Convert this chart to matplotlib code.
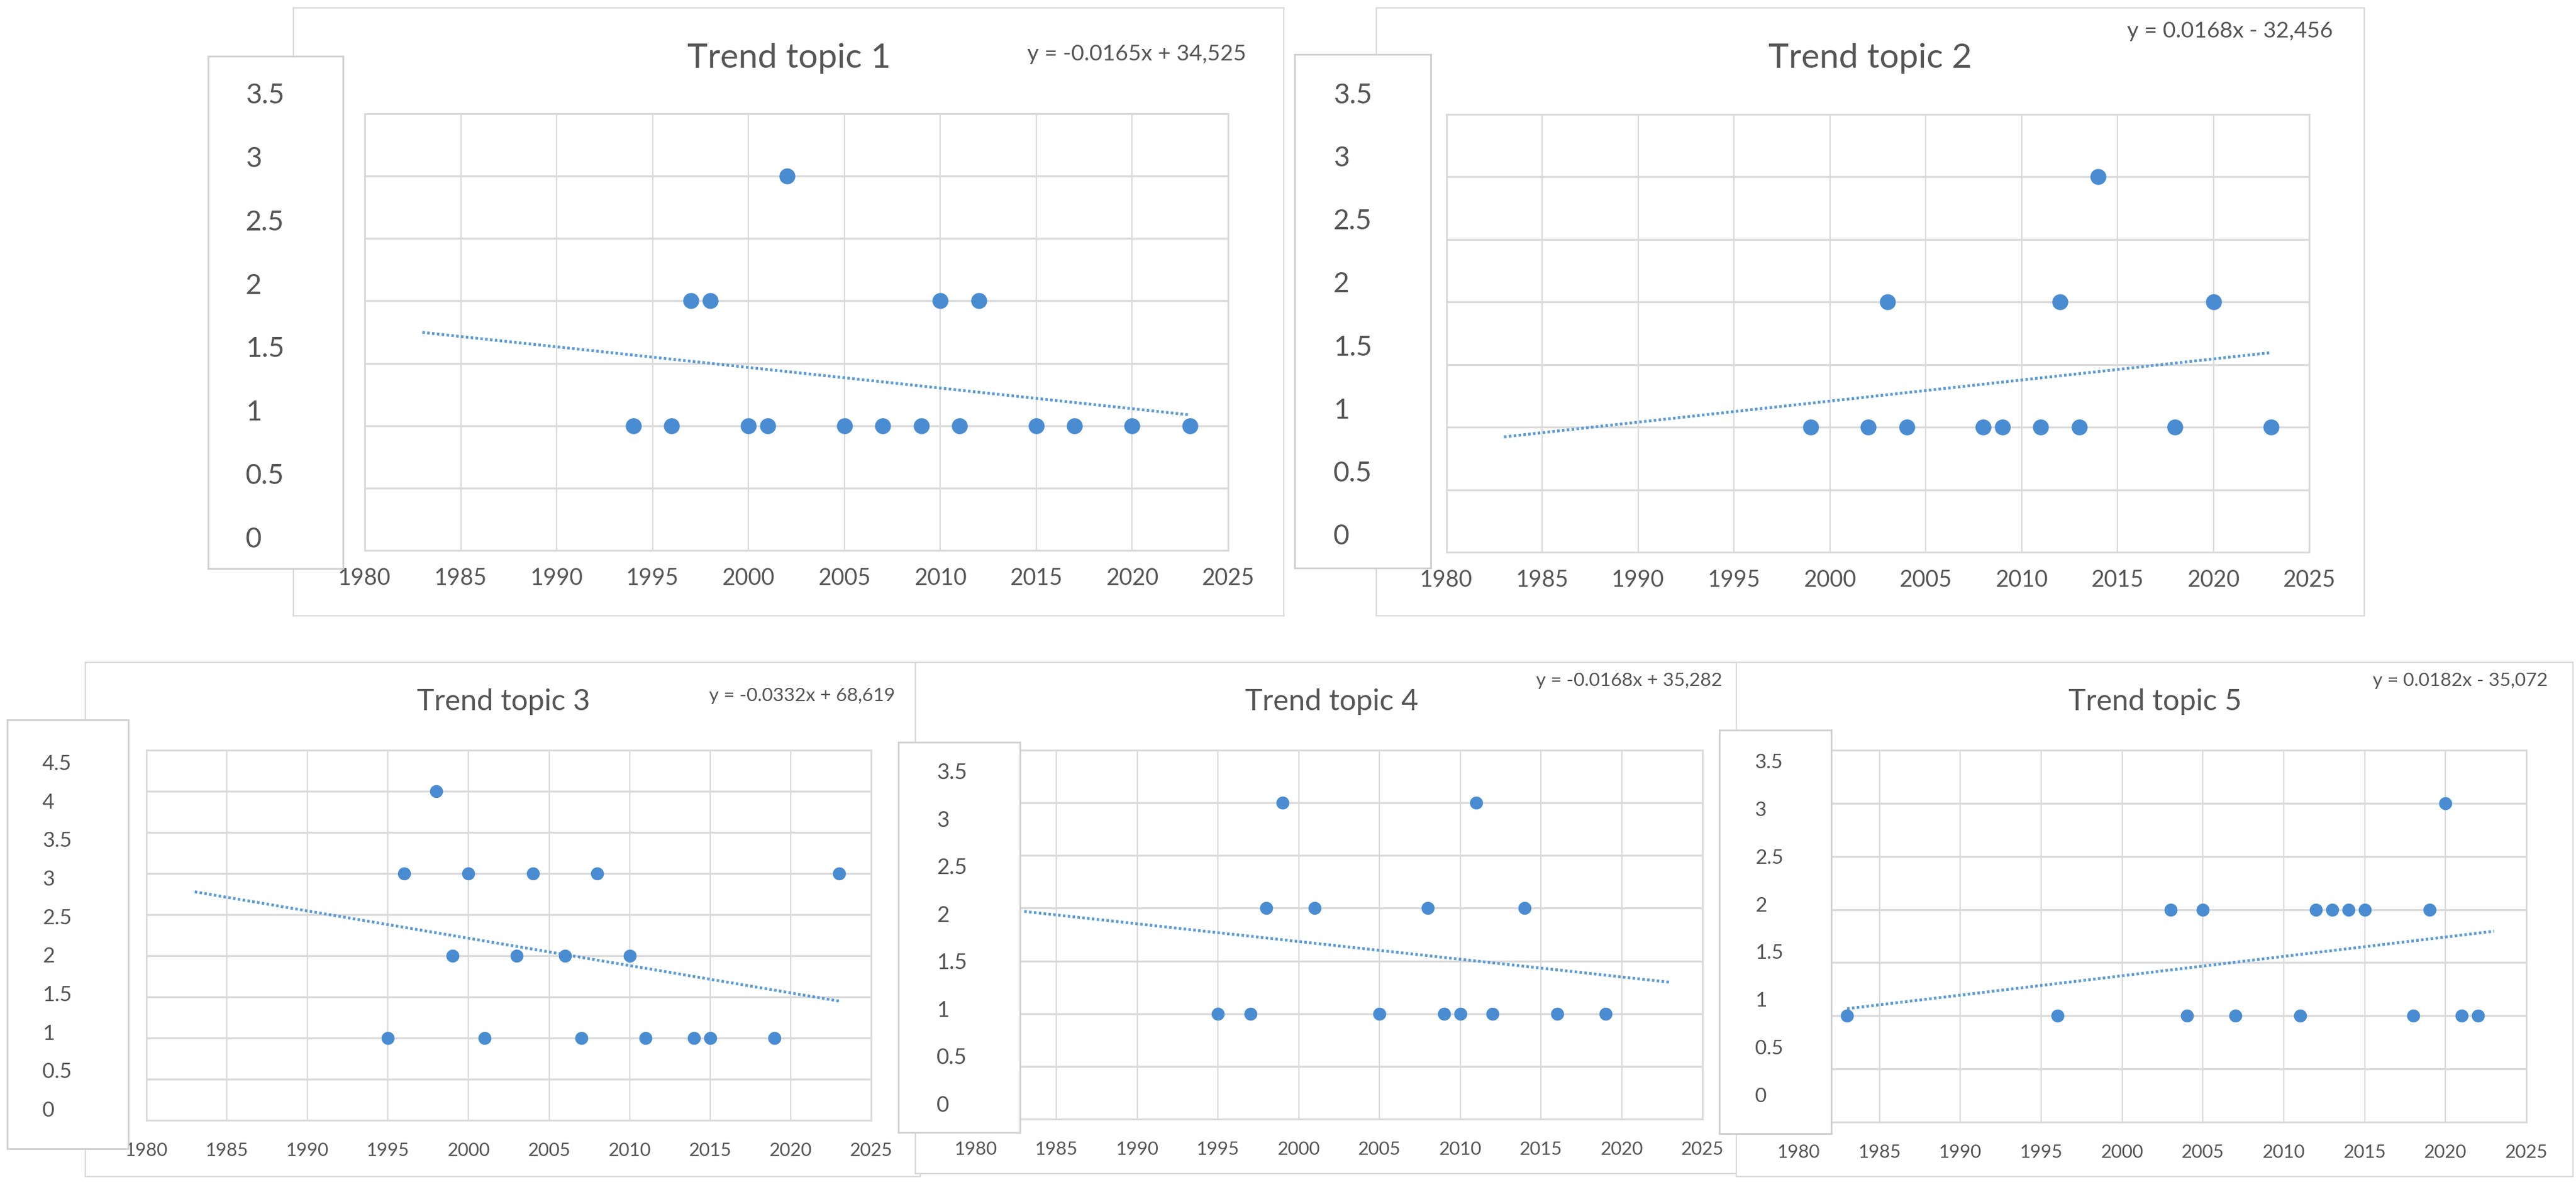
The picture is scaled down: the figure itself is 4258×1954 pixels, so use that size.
import numpy as np
import matplotlib
matplotlib.use('Agg')
import matplotlib.pyplot as plt

plt.rcParams['font.family'] = ['Lato', 'DejaVu Sans']

# data
t1_years = [1994, 1996, 1997, 1998, 2000, 2001, 2002, 2005, 2007, 2009, 2010, 2011, 2012, 2015, 2017, 2020, 2023]
t1_counts = [1, 1, 2, 2, 1, 1, 3, 1, 1, 1, 2, 1, 2, 1, 1, 1, 1]

t2_years = [1999, 2002, 2003, 2004, 2008, 2009, 2011, 2012, 2013, 2014, 2018, 2020, 2023]
t2_counts = [1, 1, 2, 1, 1, 1, 1, 2, 1, 3, 1, 2, 1]

t3_years = [1995, 1996, 1998, 1999, 2000, 2001, 2003, 2004, 2006, 2007, 2008, 2010, 2011, 2014, 2015, 2019, 2023]
t3_counts = [1, 3, 4, 2, 3, 1, 2, 3, 2, 1, 3, 2, 1, 1, 1, 1, 3]

t4_years = [1995, 1997, 1998, 1999, 2001, 2005, 2008, 2009, 2010, 2011, 2012, 2014, 2016, 2019]
t4_counts = [1, 1, 2, 3, 2, 1, 2, 1, 1, 3, 1, 2, 1, 1]

t5_years = [1983, 1996, 2003, 2004, 2005, 2007, 2011, 2012, 2013, 2014, 2015, 2018, 2019, 2020, 2021, 2022]
t5_counts = [1, 1, 2, 1, 2, 1, 1, 2, 2, 2, 2, 1, 2, 3, 1, 1]

titles = ['Trend topic 1', 'Trend topic 2', 'Trend topic 3', 'Trend topic 4', 'Trend topic 5']
equations = ['y = -0.0165x + 34,525', 'y = 0.0168x - 32,456', 'y = -0.0332x + 68,619',
             'y = -0.0168x + 35,282', 'y = 0.0182x - 35,072']
y_max = [3.5, 3.5, 4.5, 3.5, 3.5]
x_ticks = list(range(1980, 2030, 5))
trend_span = [1983, 2023]

series = [(t1_years, t1_counts), (t2_years, t2_counts), (t3_years, t3_counts),
          (t4_years, t4_counts), (t5_years, t5_counts)]

W, H = 4258, 1954
BLUE = '#4a8cd2'
TXT = '#555555'
GRID = '#dadada'

# layout in pixels (left, top, right, bottom)
layout = [
    dict(outer=(485, 13, 2122, 1018), lab=(344, 93, 567, 940), plot=(603, 188, 2030, 910),
         title=(1304, 96, 41), eq=(2060, 90, 26.5), lab_x=406, lab_top=154, lab_bot=888,
         lab_fs=33, xfs=27, pad=20, ms=360),
    dict(outer=(2275, 13, 3908, 1018), lab=(2140, 90, 2365, 939), plot=(2391, 189, 3817, 913),
         title=(3091, 96, 41), eq=(3856, 51, 26.5), lab_x=2204, lab_top=154, lab_bot=883,
         lab_fs=33, xfs=27, pad=20, ms=360),
    dict(outer=(141, 1095, 1521, 1945), lab=(12, 1190, 212, 1899), plot=(242, 1240, 1440, 1852),
         title=(832, 1160, 35), eq=(1479, 1150, 22.5), lab_x=70, lab_top=1260, lab_bot=1833,
         lab_fs=25, xfs=22, pad=26, ms=240),
    dict(outer=(1513, 1095, 2877, 1940), lab=(1485, 1227, 1686, 1872), plot=(1613, 1240, 2814, 1850),
         title=(2201, 1160, 35), eq=(2847, 1125, 22.5), lab_x=1548, lab_top=1275, lab_bot=1824,
         lab_fs=26, xfs=22, pad=26, ms=240),
    dict(outer=(2870, 1095, 4253, 1945), lab=(2842, 1207, 3027, 1874), plot=(2973, 1240, 4176, 1855),
         title=(3562, 1160, 35), eq=(4211, 1125, 22.5), lab_x=2901, lab_top=1258, lab_bot=1810,
         lab_fs=24, xfs=22, pad=26, ms=240),
]


def fr(l, t, r, b):
    return [l / W, 1 - b / H, (r - l) / W, (b - t) / H]


def box_axes(fig, rect, edge, lw):
    ax = fig.add_axes(fr(*rect))
    ax.set_xticks([])
    ax.set_yticks([])
    ax.set_facecolor('white')
    for s in ax.spines.values():
        s.set_color(edge)
        s.set_linewidth(lw)
    return ax


fig = plt.figure(figsize=(W / 100, H / 100), dpi=100)
fig.patch.set_facecolor('white')

for i, (years, counts) in enumerate(series):
    L = layout[i]

    # chart frame with title and trendline equation
    ax_o = box_axes(fig, L['outer'], '#d9d9d9', 1.6)
    tx, ty, tfs = L['title']
    ax_o.text(tx / W, 1 - ty / H, titles[i], transform=fig.transFigure, ha='center',
              va='center', fontsize=tfs, color=TXT)
    ex, ey, efs = L['eq']
    ax_o.text(ex / W, 1 - ey / H, equations[i], transform=fig.transFigure, ha='right',
              va='center', fontsize=efs, color=TXT)

    # plot area
    ax = fig.add_axes(fr(*L['plot']))
    ax.set_xlim(1980, 2025)
    ax.set_ylim(0, y_max[i])
    ax.set_xticks(x_ticks)
    ax.set_yticks(np.arange(0, y_max[i] + 0.01, 0.5))
    ax.set_axisbelow(True)
    ax.grid(axis='y', color=GRID, linewidth=2.4)
    ax.grid(axis='x', color=GRID, linewidth=1.6)
    for s in ax.spines.values():
        s.set_color(GRID)
        s.set_linewidth(2.0)
    ax.tick_params(length=0, labelleft=False, labelsize=L['xfs'], labelcolor=TXT, pad=L['pad'])

    ax.scatter(years, counts, s=L['ms'], color=BLUE, zorder=3, linewidths=0)
    slope, inter = np.polyfit(years, counts, 1)
    tr_x = np.array(trend_span)
    ax.plot(tr_x, slope * tr_x + inter, color='#5b9bd5', linewidth=3.4,
            linestyle=(0, (0.9, 0.8)), zorder=2)

    # pasted y-axis label box
    lab = L['lab']
    ax_l = box_axes(fig, lab, '#cfcfcf', 2.0)
    scale = (L['lab_bot'] - L['lab_top']) / y_max[i]
    v_top = y_max[i] + (L['lab_top'] - lab[1]) / scale
    v_bot = -(lab[3] - L['lab_bot']) / scale
    ax_l.set_ylim(v_bot, v_top)
    ax_l.set_xlim(lab[0], lab[2])
    for v in np.arange(0, y_max[i] + 0.01, 0.5):
        ax_l.text(L['lab_x'], v, f'{v:g}', ha='left', va='center_baseline',
                  fontsize=L['lab_fs'], color=TXT)

fig.savefig('out.png', dpi=100)
